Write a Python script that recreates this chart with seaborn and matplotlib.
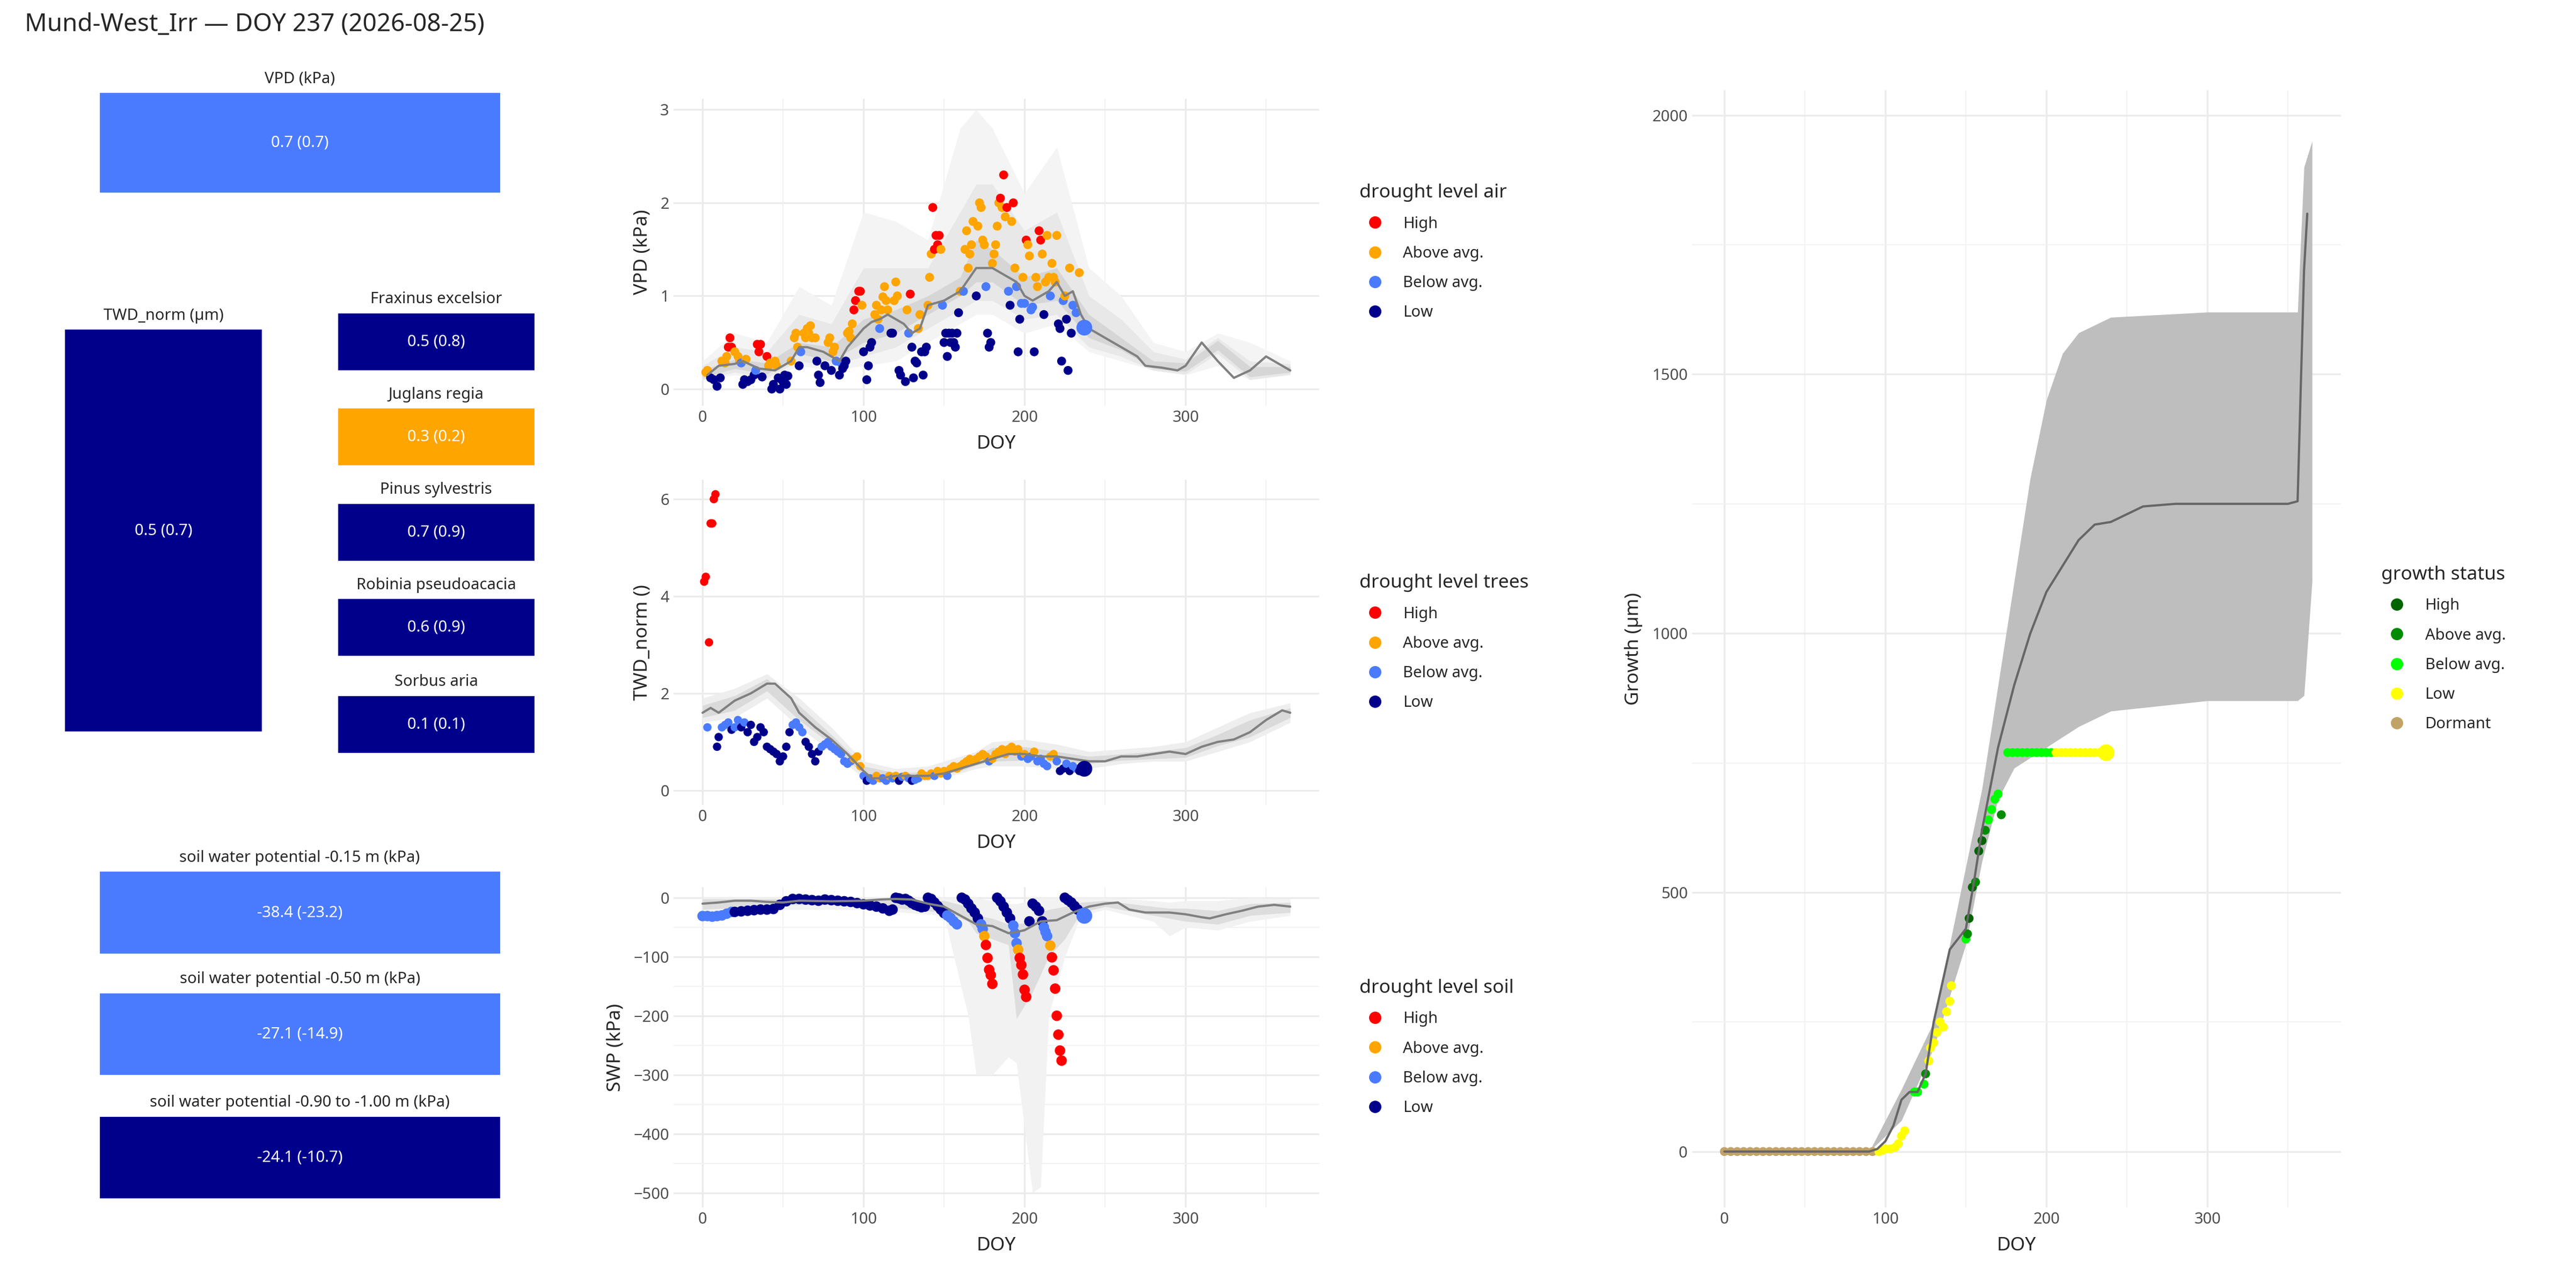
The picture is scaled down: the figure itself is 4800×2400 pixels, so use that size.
import numpy as np
import pandas as pd
import matplotlib
matplotlib.use("Agg")
import matplotlib.pyplot as plt
import seaborn as sns
from matplotlib.lines import Line2D
from matplotlib.ticker import MultipleLocator

sns.set_theme(style="whitegrid")
plt.rcParams["font.family"] = ["Noto Sans", "DejaVu Sans"]

# %%
# ---- data ----
levels = ["High", "Above avg.", "Below avg.", "Low"]
level_colors = ["#FF0000", "#FFA500", "#4A7BFF", "#00008B"]
growth_levels = ["High", "Above avg.", "Below avg.", "Low", "Dormant"]
growth_colors = ["#006400", "#008B00", "#00FF00", "#FFFF00", "#C2A366"]

# tiles: (title, text, level)
vpd_tile = ("VPD (kPa)", "0.7 (0.7)", "Below avg.")
twd_tile = ("TWD_norm (µm)", "0.5 (0.7)", "Low")
species_tiles = [
    ("Fraxinus excelsior", "0.5 (0.8)", "Low"),
    ("Juglans regia", "0.3 (0.2)", "Above avg."),
    ("Pinus sylvestris", "0.7 (0.9)", "Low"),
    ("Robinia pseudoacacia", "0.6 (0.9)", "Low"),
    ("Sorbus aria", "0.1 (0.1)", "Low"),
]
soil_tiles = [
    ("soil water potential -0.15 m (kPa)", "-38.4 (-23.2)", "Below avg."),
    ("soil water potential -0.50 m (kPa)", "-27.1 (-14.9)", "Below avg."),
    ("soil water potential -0.90 to -1.00 m (kPa)", "-24.1 (-10.7)", "Low"),
]

# VPD climatology
vpd_line_doy = [3, 10, 20, 25, 35, 45, 50, 55, 60, 65, 75, 80, 85, 90, 95, 100, 105, 110, 115, 120, 125, 130, 135,
                140, 150, 160, 170, 180, 190, 195, 200, 205, 210, 215, 220, 225, 230, 235, 240, 250, 255, 260, 270,
                275, 285, 295, 300, 310, 320, 330, 340, 350, 360, 365]
vpd_line = [0.15, 0.25, 0.27, 0.3, 0.22, 0.2, 0.25, 0.3, 0.45, 0.45, 0.4, 0.35, 0.3, 0.45, 0.55, 0.65, 0.72, 0.75,
            0.8, 0.75, 0.7, 0.6, 0.65, 0.9, 0.95, 1.05, 1.3, 1.3, 1.2, 1.15, 1.0, 0.95, 1.0, 1.05, 1.15, 1.0, 1.05,
            0.8, 0.65, 0.55, 0.5, 0.45, 0.35, 0.25, 0.23, 0.2, 0.25, 0.5, 0.3, 0.12, 0.2, 0.35, 0.25, 0.2]
band_doy = [0, 20, 40, 60, 80, 100, 120, 140, 160, 170, 180, 200, 220, 240, 260, 280, 300, 320, 340, 365]
vpd_outer_hi = [0.3, 0.6, 0.5, 1.1, 0.9, 1.9, 1.8, 1.6, 2.8, 3.0, 2.8, 2.1, 2.6, 1.3, 1.0, 0.5, 0.4, 0.6, 0.5, 0.3]
vpd_outer_lo = [0.1, 0.15, 0.1, 0.25, 0.2, 0.25, 0.3, 0.5, 0.7, 0.8, 0.8, 0.6, 0.7, 0.4, 0.3, 0.2, 0.15, 0.25, 0.1, 0.15]
vpd_mid_hi = [0.25, 0.45, 0.4, 0.8, 0.7, 1.3, 1.3, 1.3, 1.9, 2.2, 2.2, 1.7, 1.9, 1.0, 0.75, 0.4, 0.32, 0.55, 0.3, 0.27]
vpd_mid_lo = [0.1, 0.18, 0.12, 0.3, 0.25, 0.35, 0.45, 0.65, 0.85, 0.95, 0.95, 0.75, 0.8, 0.45, 0.35, 0.2, 0.16, 0.38, 0.1, 0.16]
vpd_inner_hi = [0.2, 0.32, 0.28, 0.5, 0.45, 0.75, 0.85, 1.0, 1.2, 1.6, 1.5, 1.2, 1.3, 0.8, 0.55, 0.3, 0.28, 0.52, 0.24, 0.24]
vpd_inner_lo = [0.12, 0.22, 0.16, 0.38, 0.3, 0.5, 0.6, 0.8, 1.0, 1.15, 1.15, 0.9, 0.95, 0.55, 0.42, 0.22, 0.19, 0.42, 0.13, 0.18]

vpd_pts = {2: 0.18, 3: 0.2, 5: 0.12, 7: 0.1, 9: 0.03, 11: 0.12, 12: 0.3, 14: 0.28, 15: 0.35, 16: 0.45, 17: 0.55,
           18: 0.45, 20: 0.4, 22: 0.35, 23: 0.3, 24: 0.28, 25: 0.05, 26: 0.1, 27: 0.32, 28: 0.08, 30: 0.1, 32: 0.15,
           33: 0.2, 34: 0.48, 35: 0.4, 36: 0.48, 37: 0.13, 40: 0.35, 41: 0.25, 42: 0.28, 43: 0.0, 44: 0.05, 45: 0.3,
           46: 0.25, 47: 0.12, 48: 0.0, 49: 0.1, 50: 0.08, 51: 0.15, 52: 0.05, 53: 0.14, 55: 0.3, 57: 0.55, 58: 0.6,
           59: 0.45, 60: 0.25, 61: 0.4, 63: 0.6, 64: 0.55, 65: 0.65, 66: 0.6, 67: 0.68, 68: 0.55, 70: 0.55, 71: 0.3,
           72: 0.15, 73: 0.07, 76: 0.25, 78: 0.5, 79: 0.55, 80: 0.2, 81: 0.4, 82: 0.45, 83: 0.3, 85: 0.15, 86: 0.28,
           87: 0.22, 88: 0.25, 89: 0.3, 90: 0.6, 91: 0.62, 92: 0.55, 93: 0.7, 94: 0.85, 95: 0.95, 97: 1.05, 98: 1.05,
           99: 0.9, 100: 0.4, 102: 0.1, 103: 0.25, 104: 0.45, 105: 0.5, 107: 0.8, 108: 0.9, 109: 0.75, 110: 0.65,
           111: 0.85, 112: 0.99, 113: 1.1, 114: 0.95, 115: 0.85, 117: 0.6, 118: 0.6, 119: 0.95, 120: 1.15, 121: 1.0,
           122: 0.2, 123: 0.15, 126: 0.08, 127: 0.85, 128: 0.6, 129: 1.02, 130: 0.45, 131: 0.12, 132: 0.3, 133: 0.28,
           134: 0.65, 135: 0.8, 136: 0.4, 137: 0.15, 138: 0.4, 139: 0.45, 140: 0.9, 141: 1.2, 142: 1.45, 143: 1.95,
           144: 1.5, 145: 1.65, 146: 1.55, 147: 1.65, 148: 1.5, 149: 0.9, 150: 0.5, 151: 0.6, 152: 0.35, 153: 0.6,
           154: 0.5, 155: 0.6, 156: 0.5, 157: 0.45, 158: 0.6, 159: 0.82, 160: 1.05, 162: 1.05, 163: 1.5, 164: 1.7,
           165: 1.3, 166: 1.45, 167: 1.55, 168: 1.8, 170: 1.0, 171: 1.75, 172: 2.0, 173: 1.95, 174: 1.6, 175: 1.55,
           176: 1.1, 177: 0.6, 178: 0.45, 179: 0.5, 180: 1.35, 181: 1.45, 182: 1.55, 183: 1.75, 184: 2.0, 185: 2.05,
           186: 1.95, 187: 2.3, 188: 1.85, 189: 1.95, 190: 1.05, 191: 0.9, 192: 1.8, 193: 2.0, 194: 1.3, 195: 1.1,
           196: 0.4, 197: 0.75, 198: 0.92, 199: 1.2, 200: 0.92, 201: 1.6, 202: 1.55, 203: 1.43, 204: 0.85, 205: 0.88,
           206: 0.4, 207: 1.2, 208: 1.1, 209: 1.7, 210: 1.6, 211: 1.45, 212: 0.8, 213: 1.15, 214: 1.65, 215: 1.2,
           216: 1.0, 217: 1.35, 218: 1.2, 219: 1.15, 220: 1.65, 221: 0.7, 222: 0.65, 223: 0.3, 224: 0.95, 225: 1.0,
           226: 0.75, 227: 0.2, 228: 1.3, 229: 0.6, 230: 0.9, 232: 0.82, 234: 1.25}
vpd_now = (237, 0.66, "Below avg.")

# TWD climatology
twd_line_doy = [0, 5, 10, 20, 30, 40, 45, 50, 55, 60, 70, 80, 90, 100, 105, 110, 120, 130, 140, 150, 160, 170, 180,
                190, 200, 210, 220, 230, 240, 250, 260, 270, 280, 290, 300, 310, 320, 330, 340, 350, 360, 365]
twd_line = [1.6, 1.7, 1.6, 1.85, 2.0, 2.2, 2.2, 2.05, 1.9, 1.6, 1.3, 1.05, 0.75, 0.4, 0.25, 0.25, 0.3, 0.3, 0.3,
            0.35, 0.45, 0.55, 0.65, 0.75, 0.75, 0.7, 0.7, 0.65, 0.6, 0.6, 0.7, 0.7, 0.75, 0.8, 0.75, 0.9, 1.0, 1.05,
            1.2, 1.45, 1.65, 1.6]
twd_outer_hi = [1.9, 2.1, 2.4, 1.9, 1.3, 0.6, 0.45, 0.5, 0.7, 0.8, 1.0, 1.05, 0.95, 0.8, 0.85, 0.9, 1.0, 1.3, 1.6, 1.8]
twd_outer_lo = [1.4, 1.5, 1.9, 1.3, 0.8, 0.25, 0.2, 0.2, 0.35, 0.45, 0.5, 0.5, 0.45, 0.45, 0.55, 0.6, 0.6, 0.8, 1.0, 1.4]
twd_inner_hi = [1.75, 1.95, 2.3, 1.75, 1.15, 0.5, 0.36, 0.38, 0.58, 0.7, 0.88, 0.9, 0.8, 0.7, 0.75, 0.8, 0.88, 1.15, 1.45, 1.7]
twd_inner_lo = [1.5, 1.65, 2.05, 1.45, 0.95, 0.32, 0.24, 0.26, 0.4, 0.52, 0.6, 0.62, 0.58, 0.55, 0.62, 0.65, 0.68, 0.92, 1.1, 1.5]

twd_pts = {1: 4.3, 2: 4.4, 4: 3.05, 5: 5.5, 6: 5.5, 7: 6.0, 8: 6.1, 3: 1.3, 9: 0.9, 10: 1.1, 12: 1.3, 14: 1.35,
           16: 1.4, 18: 1.25, 20: 1.3, 22: 1.45, 24: 1.3, 26: 1.4, 28: 1.2, 30: 1.35, 32: 1.0, 34: 1.1, 36: 1.3,
           38: 1.2, 40: 0.9, 42: 0.85, 44: 0.8, 46: 0.75, 48: 0.6, 50: 0.7, 52: 0.9, 54: 1.2, 56: 1.35, 58: 1.4,
           60: 1.3, 62: 1.2, 64: 1.0, 66: 0.9, 68: 0.75, 70: 0.6, 72: 0.8, 74: 0.9, 76: 0.95, 78: 1.0, 80: 0.9,
           82: 0.85, 84: 0.8, 86: 0.75, 88: 0.6, 90: 0.55, 92: 0.6, 94: 0.65, 96: 0.7, 98: 0.5, 100: 0.3, 102: 0.2,
           104: 0.25, 106: 0.2, 108: 0.3, 110: 0.25, 112: 0.25, 114: 0.2, 116: 0.3, 118: 0.25, 120: 0.3, 122: 0.2,
           124: 0.28, 126: 0.3, 128: 0.25, 130: 0.2, 132: 0.22, 134: 0.25, 136: 0.35, 138: 0.3, 140: 0.3, 142: 0.35,
           144: 0.3, 146: 0.4, 148: 0.35, 150: 0.4, 152: 0.3, 154: 0.45, 156: 0.5, 158: 0.45, 160: 0.5, 162: 0.55,
           164: 0.6, 166: 0.65, 168: 0.6, 170: 0.65, 172: 0.7, 174: 0.75, 176: 0.7, 178: 0.6, 180: 0.65, 182: 0.75,
           184: 0.8, 186: 0.85, 188: 0.75, 190: 0.85, 192: 0.9, 194: 0.8, 196: 0.85, 198: 0.7, 200: 0.75, 202: 0.65,
           204: 0.7, 206: 0.8, 208: 0.6, 210: 0.65, 212: 0.55, 214: 0.5, 216: 0.7, 218: 0.75, 220: 0.6, 222: 0.4,
           224: 0.45, 226: 0.55, 228: 0.4, 230: 0.5, 232: 0.45, 234: 0.4}
twd_now = (237, 0.45, "Low")

# SWP climatology
swp_line_doy = [0, 10, 20, 30, 40, 50, 60, 80, 100, 110, 120, 130, 140, 150, 160, 170, 180, 190, 195, 200, 210, 220,
                230, 240, 250, 258, 265, 275, 290, 300, 310, 315, 325, 335, 345, 355, 365]
swp_line = [-10, -8, -5, -5, -7, -8, -5, -6, -5, -3, -2, -3, -10, -15, -30, -45, -48, -60, -58, -55, -40, -38, -25,
            -15, -10, -8, -20, -25, -25, -28, -33, -35, -28, -22, -15, -12, -15]
swp_band_doy = [0, 50, 100, 150, 165, 170, 180, 190, 195, 205, 210, 215, 225, 235, 250, 280, 290, 300, 320, 340, 365]
swp_outer_lo = [-30, -20, -20, -30, -200, -300, -300, -270, -280, -500, -490, -200, -100, -30, -20, -40, -65, -50,
                -55, -40, -30]
swp_outer_hi = [0, 0, 0, 0, 0, 0, -5, -10, -10, -5, 0, 0, 0, 0, 0, -5, -8, -5, -5, 0, -2]
swp_inner_lo = [-20, -12, -12, -25, -40, -60, -70, -80, -205, -160, -130, -100, -70, -25, -15, -30, -35, -40, -45,
                -30, -25]
swp_inner_hi = [-2, -2, -2, -5, -15, -30, -35, -45, -45, -40, -25, -20, -15, -8, -5, -15, -18, -18, -22, -10, -8]

swp_doy = [0, 3, 6, 9, 12, 15, 18, 20, 24, 28, 32, 36, 40, 44, 48, 52, 56, 60, 64, 68, 72, 76, 80, 84, 88, 92, 96,
           100, 104, 108, 112, 116, 118, 120, 122, 124, 126, 128, 130, 132, 134, 136, 138,
           140, 142, 144, 146, 148, 150, 152, 154, 156, 158,
           161, 163, 165, 167, 169, 171, 173, 174, 175, 176, 177, 178, 179, 180,
           183, 185, 187, 189, 191, 193, 194, 195, 196, 197, 198, 199, 200, 201, 203,
           205, 207, 209, 211, 212, 213, 214, 216, 217, 218, 219, 220, 221, 222, 223,
           225, 227, 229, 231, 233]
swp_val = [-31, -31, -32, -31, -30, -27, -24, -24, -23, -22, -21, -20, -20, -19, -12, -6, -2, -2, -3, -4, -5, -3,
           -4, -5, -6, -7, -9, -11, -13, -15, -18, -22, -20, 0, -1, -3, -2, -5, -9, -12, -14, -16, -15,
           0, -2, -8, -14, -20, -26, -30, -34, -40, -45,
           0, -3, -10, -18, -25, -35, -45, -53, -65, -80, -102, -122, -131, -146,
           0, -6, -15, -25, -35, -47, -60, -77, -88, -102, -114, -130, -156, -168, -40,
           -10, -15, -22, -40, -50, -58, -65, -81, -101, -123, -154, -200, -232, -259, -276,
           0, -4, -8, -14, -20]
swp_level = (["Below avg."] * 7 + ["Low"] * 36
             + ["Low"] * 6 + ["Below avg."] * 4
             + ["Low"] * 6 + ["Below avg."] * 2 + ["Above avg."] + ["High"] * 5
             + ["Low"] * 5 + ["Below avg."] * 3 + ["Above avg."] + ["High"] * 5 + ["Low"]
             + ["Low"] * 4 + ["Below avg."] * 3 + ["Above avg."] + ["High"] * 7
             + ["Low"] * 5)
swp_now = (237, -30, "Below avg.")

# growth
growth_line_doy = [0, 90, 95, 100, 105, 110, 115, 120, 125, 130, 140, 145, 150, 155, 160, 165, 170, 175, 180, 190,
                   200, 210, 220, 230, 240, 250, 260, 280, 300, 320, 350, 356, 360, 362]
growth_line = [0, 0, 5, 20, 50, 100, 115, 115, 150, 250, 390, 410, 430, 520, 620, 700, 780, 840, 900, 1000, 1080,
               1130, 1180, 1210, 1215, 1230, 1245, 1250, 1250, 1250, 1250, 1255, 1700, 1810]
growth_band_doy = [0, 90, 110, 130, 150, 160, 170, 180, 190, 200, 210, 220, 240, 300, 356, 360, 365]
growth_lo = [0, 0, 60, 200, 400, 560, 680, 740, 760, 780, 800, 820, 850, 870, 870, 880, 1100]
growth_hi = [0, 0, 120, 250, 550, 700, 900, 1100, 1300, 1450, 1540, 1580, 1610, 1620, 1620, 1900, 1950]

growth_doy = [0, 4, 8, 12, 16, 20, 24, 28, 32, 36, 40, 44, 48, 52, 56, 60, 64, 68, 72, 76, 80, 84, 88, 92,
              96, 98, 100, 103, 106, 108, 110, 112, 118, 120, 124, 125, 127, 128, 130, 132, 134, 136, 138, 140, 141,
              150, 151, 152, 154, 156, 158, 160, 162, 164, 166, 168, 170, 172,
              176, 179, 182, 185, 188, 191, 194, 197, 200, 203, 206, 209, 212, 215, 218, 221, 224, 227, 230, 233, 236]
growth_val = [0] * 24 + [0, 2, 5, 5, 8, 15, 30, 40, 115, 115, 130, 150, 175, 200, 210, 230, 250, 240, 270, 290, 320,
              410, 420, 450, 510, 520, 580, 600, 620, 640, 660, 680, 690, 650] + [770] * 21
growth_stat = (["Dormant"] * 24 + ["Low"] * 8 + ["Below avg."] * 3 + ["Above avg.", "Low", "Low", "Low", "Low",
               "Low", "Low", "Low", "Low", "Low"]
               + ["Below avg.", "Above avg.", "High", "High", "Above avg.", "High", "High", "Above avg.",
                  "Below avg.", "Below avg.", "Below avg.", "Below avg.", "Above avg."]
               + ["Below avg."] * 10 + ["Low"] * 11)
growth_now = (237, 770, "Low")


# %%
def classify(doy, val, line_doy, line, cuts):
    ref = np.interp(doy, line_doy, line)
    r = np.array(val) / ref
    return np.where(r >= cuts[0], "High", np.where(r >= cuts[1], "Above avg.",
                    np.where(r >= cuts[2], "Below avg.", "Low")))


def style_axes(ax):
    ax.xaxis.set_minor_locator(MultipleLocator(50))
    ax.grid(which="major", color="#EBEBEB", lw=0.8)
    ax.grid(which="minor", color="#F2F2F2", lw=0.5)
    for s in ax.spines.values():
        s.set_visible(False)
    ax.tick_params(labelsize=7, colors="#4D4D4D", length=0, pad=2)
    ax.set_xlabel("DOY", fontsize=8.5)
    ax.set_xlim(-18, 383)
    ax.set_xticks([0, 100, 200, 300])


def add_legend(ax, title, labels, colors):
    handles = [Line2D([], [], marker="o", ls="", color=c, markersize=4.5) for c in colors]
    ax.legend(handles, labels, title=title, loc="center left", bbox_to_anchor=(1.04, 0.5), frameon=False,
              fontsize=7, title_fontsize=8.5, labelspacing=0.9, alignment="left", handletextpad=0.8)


def draw_panel(ax, df, now, line_doy, line, bands, ylabel, title, size=16):
    for bx, lo, hi, col in bands:
        ax.fill_between(bx, lo, hi, color=col, lw=0)
    sns.lineplot(x=line_doy, y=line, ax=ax, color="#808080", lw=1)
    sns.scatterplot(data=df, x="doy", y="val", hue="level", hue_order=levels, palette=level_colors, ax=ax,
                    s=size, linewidth=0, legend=False)
    ax.scatter([now[0]], [now[1]], s=50, color=level_colors[levels.index(now[2])], lw=0, zorder=5)
    style_axes(ax)
    ax.set_ylabel(ylabel, fontsize=8.5)
    add_legend(ax, title, levels, level_colors)


W, H = 1568, 784
fig = plt.figure(figsize=(16, 8), dpi=300)
fig.text(15 / W, 1 - 15 / H, "Mund-West_Irr — DOY 237 (2026-08-25)", fontsize=11, va="center")


def px_axes(x0, y0, x1, y1):
    return fig.add_axes([x0 / W, 1 - y1 / H, (x1 - x0) / W, (y1 - y0) / H])


def tile(box, spec):
    title, txt, lev = spec
    ax = px_axes(*box)
    ax.bar([0.5], [1], width=1, color=level_colors[levels.index(lev)])
    ax.set_xlim(0, 1)
    ax.set_ylim(0, 1)
    ax.axis("off")
    ax.text(0.5, 0.5, txt, ha="center", va="center", color="white", fontsize=7)
    ax.set_title(title, fontsize=7, pad=4)


tile((60, 56, 305, 118), vpd_tile)
tile((39, 200, 160, 446), twd_tile)
for i, spec in enumerate(species_tiles):
    top = [190, 248, 306, 364, 423][i]
    tile((205, top, 326, top + 36), spec)
for i, spec in enumerate(soil_tiles):
    top = [530, 604, 679][i]
    tile((60, top, 305, top + 51), spec)

vdf = pd.DataFrame({"doy": list(vpd_pts.keys()), "val": list(vpd_pts.values())})
vdf["level"] = classify(vdf["doy"], vdf["val"], vpd_line_doy, vpd_line, (1.6, 1.0, 0.8))
ax1 = px_axes(410, 60, 803, 247)
draw_panel(ax1, vdf, vpd_now, vpd_line_doy, vpd_line,
           [(band_doy, vpd_outer_lo, vpd_outer_hi, "#F4F4F4"), (band_doy, vpd_mid_lo, vpd_mid_hi, "#E8E8E8"),
            (band_doy, vpd_inner_lo, vpd_inner_hi, "#D6D6D6")],
           "VPD (kPa)", "drought level air")
ax1.set_ylim(-0.18, 3.12)
ax1.set_yticks([0, 1, 2, 3])

tdf = pd.DataFrame({"doy": list(twd_pts.keys()), "val": list(twd_pts.values())})
tdf["level"] = classify(tdf["doy"], tdf["val"], twd_line_doy, twd_line, (1.6, 1.0, 0.7))
ax2 = px_axes(410, 292, 803, 490)
draw_panel(ax2, tdf, twd_now, twd_line_doy, twd_line,
           [(band_doy, twd_outer_lo, twd_outer_hi, "#EEEEEE"), (band_doy, twd_inner_lo, twd_inner_hi, "#DADADA")],
           "TWD_norm ()", "drought level trees", size=14)
ax2.set_ylim(-0.3, 6.4)
ax2.set_yticks([0, 2, 4, 6])

sdf = pd.DataFrame({"doy": swp_doy, "val": swp_val, "level": swp_level})
ax3 = px_axes(410, 540, 803, 735)
draw_panel(ax3, sdf, swp_now, swp_line_doy, swp_line,
           [(swp_band_doy, swp_outer_lo, swp_outer_hi, "#F2F2F2"),
            (swp_band_doy, swp_inner_lo, swp_inner_hi, "#DDDDDD")],
           "SWP (kPa)", "drought level soil", size=22)
ax3.set_ylim(-525, 18)
ax3.set_yticks([0, -100, -200, -300, -400, -500])
ax3.yaxis.set_minor_locator(MultipleLocator(50))
ax3.grid(which="minor", axis="y", color="#F2F2F2", lw=0.5)

ax4 = px_axes(1030, 55, 1425, 735)
ax4.fill_between(growth_band_doy, growth_lo, growth_hi, color="#BEBEBE", lw=0)
sns.lineplot(x=growth_line_doy, y=growth_line, ax=ax4, color="#666666", lw=1)
gdf = pd.DataFrame({"doy": growth_doy, "val": growth_val, "status": growth_stat})
sns.scatterplot(data=gdf, x="doy", y="val", hue="status", hue_order=growth_levels, palette=growth_colors,
                ax=ax4, s=16, linewidth=0, legend=False)
ax4.scatter([growth_now[0]], [growth_now[1]], s=55, color=growth_colors[growth_levels.index(growth_now[2])],
            lw=0, zorder=5)
style_axes(ax4)
ax4.set_xlim(-20, 383)
ax4.set_ylim(-108, 2048)
ax4.set_yticks([0, 500, 1000, 1500, 2000])
ax4.yaxis.set_minor_locator(MultipleLocator(250))
ax4.grid(which="minor", axis="y", color="#F2F2F2", lw=0.5)
ax4.set_ylabel("Growth (µm)", fontsize=8.5)
add_legend(ax4, "growth status", growth_levels, growth_colors)

fig.savefig("out.png", dpi=300)
